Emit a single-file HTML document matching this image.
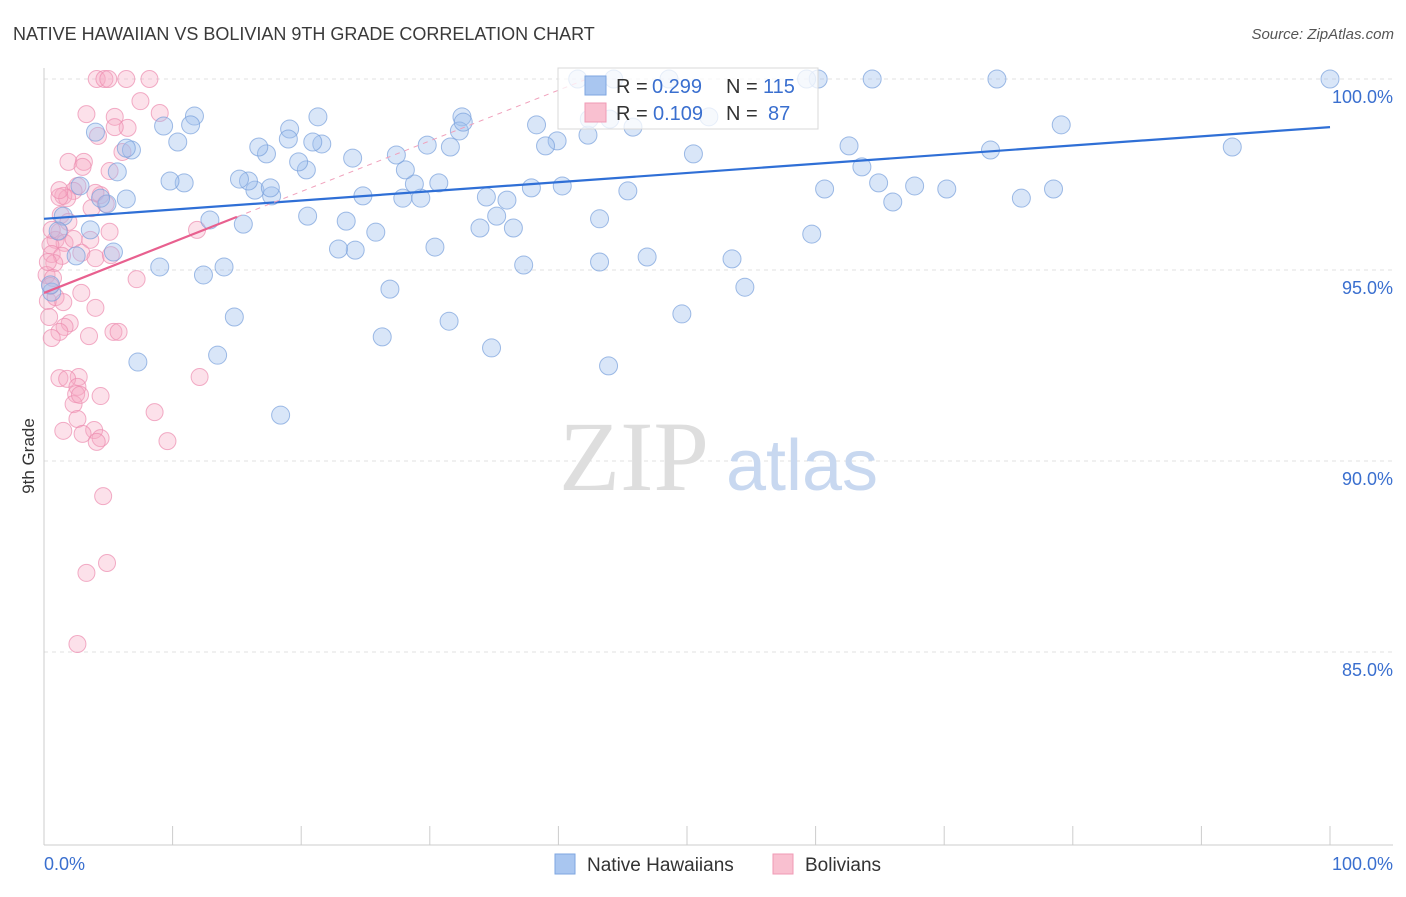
<!DOCTYPE html>
<html><head><meta charset="utf-8"><style>
body{margin:0;background:#fff;font-family:"Liberation Sans",sans-serif;}
</style></head><body>
<svg id="chart" width="1406" height="892" xmlns="http://www.w3.org/2000/svg" font-family="Liberation Sans, sans-serif">
<text x="13" y="40" font-size="18" fill="#3a3a3a">NATIVE HAWAIIAN VS BOLIVIAN 9TH GRADE CORRELATION CHART</text>
<text x="1394" y="39" font-size="15" fill="#555" font-style="italic" text-anchor="end">Source: ZipAtlas.com</text>
<text transform="translate(34,456) rotate(-90)" font-size="17" fill="#333" text-anchor="middle">9th Grade</text>
<g id="grid"></g>
<g>
<text x="634" y="490" font-size="100" fill="#dedede" style="font-family:'Liberation Serif',serif" text-anchor="middle">ZIP</text>
<text x="802" y="490" font-size="72" fill="#c8d8f0" text-anchor="middle">atlas</text>
</g>
<g id="pts"></g>
<g id="trend"></g>
<g>
<rect x="558" y="68" width="260" height="61" fill="#fff" fill-opacity="0.75" stroke="#d8d8d8"/>
<rect x="585" y="76" width="21" height="19" fill="#a9c6f0" stroke="#7ea6e0"/>
<rect x="585" y="103" width="21" height="19" fill="#f9c0d0" stroke="#f09ab5"/>
<text x="616" y="93" font-size="20" fill="#333">R =</text>
<text x="652" y="93" font-size="20" fill="#3a6fcf">0.299</text>
<text x="726" y="93" font-size="20" fill="#333">N =</text>
<text x="763" y="93" font-size="20" fill="#3a6fcf">115</text>
<text x="616" y="120" font-size="20" fill="#333">R =</text>
<text x="653" y="120" font-size="20" fill="#3a6fcf">0.109</text>
<text x="726" y="120" font-size="20" fill="#333">N =</text>
<text x="768" y="120" font-size="20" fill="#3a6fcf">87</text>
</g>
<g>
<rect x="555" y="854" width="20" height="20" fill="#a9c6f0" stroke="#7ea6e0"/>
<text x="587" y="871" font-size="19" fill="#333">Native Hawaiians</text>
<rect x="773" y="854" width="20" height="20" fill="#f9c0d0" stroke="#f09ab5"/>
<text x="805" y="871" font-size="19" fill="#333">Bolivians</text>
</g>
</svg>
<script>
const yTicks=[100,95,90,85];
const xTickLabels=["0.0%","100.0%"];
const blueX=[100,74.1,64.4,60.2,59.3,48.6,41.5,44.3,79.1,92.4,73.6,62.6,63.6,64.9,67.7,70.2,78.5,76.0,66.0,60.7,59.7,53.5,54.5,49.6,50.5,45.8,45.4,46.9,43.2,43.2,43.9,42.3,42.4,40.3,39.9,39.0,38.3,37.9,37.3,36.5,36.0,35.2,34.4,33.9,34.8,32.5,32.3,31.6,30.7,30.4,31.5,29.8,29.3,28.8,28.1,27.9,27.4,26.9,26.3,25.8,24.8,24.2,24.0,23.5,22.9,21.6,21.3,20.9,20.4,19.8,20.5,19.1,19.0,17.7,17.3,16.7,16.4,15.9,15.5,14.8,14.0,13.5,12.9,12.4,11.7,11.4,10.9,10.4,9.8,9.3,9.0,7.3,6.8,6.4,5.7,5.4,4.9,4.4,4.0,3.6,2.8,2.5,1.5,1.1,0.6,0.5,18.4,51.7,44.0,32.6,15.2,6.4,17.6];
const blueY=[100,100,100,100,100,100,100,100,98.80,98.22,98.14,98.25,97.70,97.28,97.20,97.12,97.12,96.88,96.78,97.12,95.94,95.29,94.55,93.85,98.04,98.74,97.07,95.34,96.34,95.21,92.49,98.53,98.95,97.20,98.38,98.25,98.80,97.15,95.13,96.10,96.83,96.41,96.91,96.10,92.96,99.01,98.64,98.22,97.28,95.60,93.66,98.27,96.88,97.25,97.62,96.88,98.01,94.50,93.25,95.99,96.94,95.52,97.93,96.28,95.55,98.30,99.01,98.35,97.62,97.83,96.41,98.69,98.43,96.94,98.04,98.22,97.09,97.33,96.20,93.77,95.08,92.77,96.31,94.87,99.03,98.80,97.28,98.35,97.33,98.77,95.08,92.59,98.14,96.86,97.57,95.47,96.73,96.88,98.61,96.05,97.20,95.37,96.41,96.02,94.42,94.61,91.20,99.01,98.95,98.87,97.38,98.19,97.15];
const pinkX=[4.1,4.7,6.4,8.2,5.0,7.5,9.0,3.3,5.5,6.5,5.5,4.2,6.1,1.9,3.1,3.0,5.1,2.6,2.3,1.5,1.8,4.4,4.8,3.7,1.2,4.0,1.3,1.9,1.2,0.9,1.6,0.5,2.3,3.6,0.6,1.4,2.9,4.0,5.2,0.8,0.2,0.7,0.5,7.2,2.9,0.3,0.9,4.0,0.4,2.0,1.6,1.2,0.6,3.5,5.4,5.8,12.1,1.2,2.7,1.8,2.6,2.5,2.3,2.8,4.4,8.6,2.6,3.9,1.5,3.0,4.4,4.1,9.6,4.6,4.9,3.3,2.6,11.9,0.6,1.2,1.5,0.3,5.1];
const pinkY=[100,100,100,100,100,99.42,99.11,99.08,99.01,98.72,98.74,98.51,98.09,97.83,97.83,97.70,97.59,97.20,97.07,96.94,96.88,96.96,96.73,96.62,96.91,97.02,96.44,96.26,96.00,95.79,95.71,95.65,95.81,95.79,95.42,95.37,95.45,95.31,95.39,95.18,94.87,94.79,94.58,94.76,94.40,94.19,94.29,94.01,93.77,93.61,93.51,93.38,93.22,93.27,93.38,93.38,92.20,92.17,92.20,92.15,91.94,91.75,91.49,91.73,91.70,91.28,91.10,90.81,90.79,90.71,90.60,90.50,90.52,89.08,87.33,87.07,85.21,96.05,96.05,97.09,94.16,95.21,96.00];
const blueTrend=[96.34,98.74];
const pinkTrend=[94.4,96.39];
const pinkTrendEndX=15;

const NS="http://www.w3.org/2000/svg";
const X0=44,X1=1330,YTOP=79;
function sx(v){return X0+(v/100)*(X1-X0);}
function sy(v){return YTOP+(100-v)*38.2;}
function mk(tag,attrs,parent){const e=document.createElementNS(NS,tag);for(const k in attrs)e.setAttribute(k,attrs[k]);parent.appendChild(e);return e;}
const grid=document.getElementById('grid');
yTicks.forEach(t=>{
  const l=mk('line',{x1:X0,x2:1393,y1:sy(t),y2:sy(t),stroke:'#e0e0e0','stroke-dasharray':'4,4'},grid);
  
  
  const tx=mk('text',{x:1393,y:sy(t)+24,'font-size':18,fill:'#3a6fcf','text-anchor':'end'},grid);
  tx.textContent=t.toFixed(1)+'%';
  
  
});
const ax=mk('line',{x1:X0,x2:X0,y1:68,y2:845,stroke:'#ccc'},grid);


const bx=mk('line',{x1:X0,x2:1393,y1:845,y2:845,stroke:'#ccc'},grid);


for(let i=0;i<=10;i++){
  const t=mk('line',{x1:sx(i*10),x2:sx(i*10),y1:826,y2:845,stroke:'#ccc'},grid);
  
  
}
[0,100].forEach((v,i)=>{
  const t=mk('text',{x:i?1393:44,y:870,'font-size':18,fill:'#3a6fcf','text-anchor':i?'end':'start'},grid);
  t.textContent=xTickLabels[i];
  
  
});
const pts=document.getElementById('pts');
pinkX.forEach((x,i)=>{
  const c=mk('circle',{cx:sx(x),cy:sy(pinkY[i]),r:8.5,fill:'rgba(246,170,196,0.35)',stroke:'rgba(236,140,175,0.7)','stroke-width':1},pts);
  
  
});
blueX.forEach((x,i)=>{
  const c=mk('circle',{cx:sx(x),cy:sy(blueY[i]),r:9,fill:'rgba(160,192,238,0.4)',stroke:'rgba(120,160,220,0.7)','stroke-width':1},pts);
  
  
});
const tr=document.getElementById('trend');
const bl=mk('line',{x1:sx(0),y1:sy(blueTrend[0]),x2:sx(100),y2:sy(blueTrend[1]),stroke:'#2f6fd6','stroke-width':2.2},tr);


const slope=(pinkTrend[1]-pinkTrend[0])/pinkTrendEndX;
const xEnd=(100-pinkTrend[0])/slope;
const pd=mk('line',{x1:sx(pinkTrendEndX),y1:sy(pinkTrend[1]),x2:sx(xEnd),y2:sy(100),stroke:'#f0a0bb','stroke-width':1,'stroke-dasharray':'5,5'},tr);


const pl=mk('line',{x1:sx(0),y1:sy(pinkTrend[0]),x2:sx(pinkTrendEndX),y2:sy(pinkTrend[1]),stroke:'#e8608f','stroke-width':2.2},tr);


</script>
</body></html>
